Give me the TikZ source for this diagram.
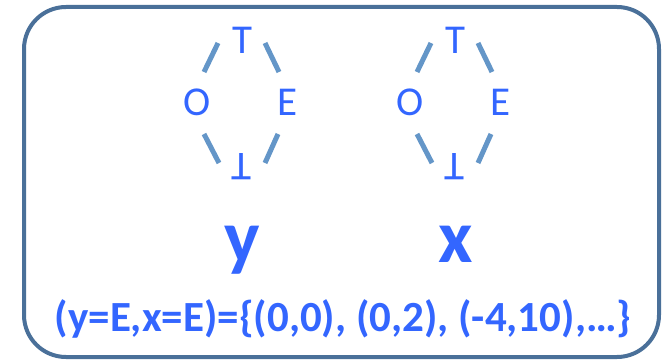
\documentclass[tikz,border=0pt]{standalone}
\usepackage{fontspec}
\setmainfont{Carlito}
\usetikzlibrary{calc}
\definecolor{txtblue}{RGB}{51,102,255}
\definecolor{lineblue}{RGB}{100,150,200}
\definecolor{frameblue}{RGB}{74,112,153}
\tikzset{
  lat/.style={inner sep=0pt, text=txtblue, font=\fontsize{41}{41}\selectfont},
  conn/.style={draw=lineblue, line width=5pt},
  var/.style={inner sep=0pt, anchor=base, text=txtblue, font=\fontsize{75}{75}\selectfont\bfseries},
  frame/.style={draw=frameblue, line width=4pt, rounded corners=42pt}
}
\begin{document}
\begin{tikzpicture}[x=1pt,y=-1pt]
\useasboundingbox (0,0) rectangle (664,363);
\draw[frame] (24,7) rectangle (659,357);
\foreach \s/\n in {0/a,213/b}{
  \node[lat] (t\n) at (242+\s,40) {T};
  \node[lat] (o\n) at (197+\s,102) {O};
  \node[lat] (e\n) at (288+\s,102) {E};
  \node[lat] (u\n) at (241+\s,167) {\scalebox{1}[-1]{T}};
  \draw[conn] ($(o\n)+(7,-30)$) -- ($(t\n)+(-24,3)$);
  \draw[conn] ($(t\n)+(23,3)$) -- ($(e\n)+(-9,-30)$);
  \draw[conn] ($(o\n)+(7,32)$) -- ($(u\n)+(-22,-4)$);
  \draw[conn] ($(e\n)+(-10,32)$) -- ($(u\n)+(24,-4)$);
}
\node[var] (vy) at (242,263) {y};
\node[var] (vx) at (456,263) {x};
\node[inner sep=0pt, anchor=base, text=txtblue, font=\fontsize{43}{43}\selectfont\bfseries] (eq) at (343,331) {(y=E,x=E)=\{(0,0), (0,2), (-4,10),…\}};
\end{tikzpicture}
\end{document}
